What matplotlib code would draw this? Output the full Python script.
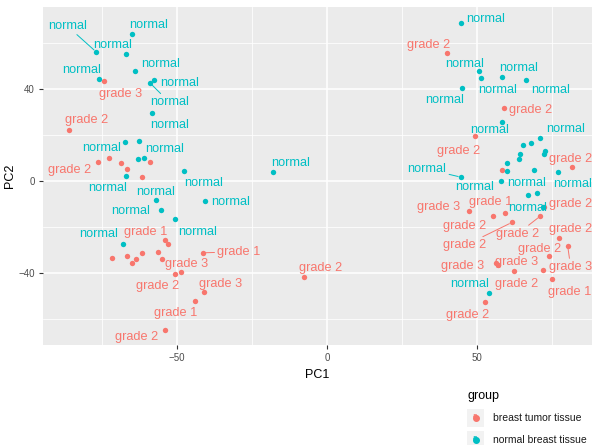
import matplotlib
matplotlib.use('Agg')
import matplotlib.pyplot as plt
from matplotlib.patches import Rectangle
from matplotlib.lines import Line2D

plt.rcParams['font.family'] = ['Liberation Sans', 'DejaVu Sans']

RED = '#F8766D'
CYAN = '#00BFC4'

# ---- data (PCA scores) ----
normal_pc1 = [-77.0, -65.1, -67.1, -64.0, -75.9, -58.9, -57.6, -58.3, -67.3, -62.8,
              -62.9, -61.2, -67.0, -47.6, -56.9, -55.4, -50.6, -40.6, -68.2, -18.0,
              44.6, 50.7, 51.3, 58.3, 66.2, 45.1, 58.2, 71.1, 67.9, 65.3,
              72.7, 72.4, 64.4, 64.1, 60.1, 59.8, 69.1, 77.0, 44.6, 57.9,
              67.0, 69.9, 72.1, 53.8]
normal_pc2 = [56.2, 63.9, 55.4, 47.7, 44.5, 42.5, 44.0, 29.7, 16.8, 17.4,
              9.4, 9.9, 2.2, 4.5, -8.3, -12.8, -16.7, -8.6, -27.4, 4.0,
              68.8, 48.0, 44.8, 45.2, 44.0, 40.6, 25.5, 18.8, 16.5, 15.8,
              13.2, 11.7, 11.6, 9.6, 8.0, 4.5, 4.8, 3.8, 1.7, -0.1,
              -6.0, -5.2, -11.1, -48.6]

tumor_pc1 = [-74.3, -85.9, -76.4, -72.7, -68.7, -66.8, -59.2, -61.6, -54.0, -53.0,
             -71.6, -66.8, -65.1, -63.6, -61.6, -56.3, -55.2, -50.6, -48.7, -41.4,
             -41.2, -44.0, -54.0, -7.6,
             39.9, 59.1, 49.4, 58.2, 81.7, 47.3, 55.3, 59.4, 61.6, 71.1,
             72.3, 77.2, 80.2, 73.8, 56.3, 57.0, 62.4, 72.1, 74.9, 52.7]
tumor_pc2 = [43.3, 22.0, 8.4, 9.9, 7.7, 5.2, 8.4, 1.7, -25.7, -27.4,
             -33.5, -32.6, -35.8, -34.1, -31.4, -30.7, -34.1, -40.4, -39.4, -31.2,
             -48.1, -52.3, -64.8, -41.9,
             55.5, 31.6, 19.7, 4.6, 6.1, -13.2, -15.2, -13.9, -18.0, -15.2,
             -11.4, -24.6, -28.3, -32.5, -35.6, -36.5, -39.3, -38.7, -42.8, -52.5]
# grade labels (None = label dropped by the repel step in the original)
tumor_grade = ['grade 3', 'grade 2', 'grade 2', None, None, None, None, None, 'grade 1', None,
               None, None, None, None, None, None, None, 'grade 2', 'grade 3', 'grade 1',
               'grade 3', 'grade 1', 'grade 2', 'grade 2',
               'grade 2', 'grade 2', 'grade 2', None, 'grade 2', 'grade 3', 'grade 2', 'grade 1',
               'grade 2', 'grade 2',
               'grade 2', 'grade 2', 'grade 3', 'grade 2', 'grade 3', 'grade 3', 'grade 2', None,
               'grade 1', 'grade 2']
normal_shown = [True] * 10 + [False, False] + [True] * 16 + [False] * 8 + \
               [True, True, True, True, False, False, True, True]

# ---- label placement (pixel offsets, repel-like layout) ----
normal_offsets = [(-29, 26), (17, 9), (-13, 9), (25, 7), (-18, 9), (19, -19), (25, -3),
                  (17, -12), (-24, -6), (26, -8), (0, 0), (0, 0), (-19, -12), (19, -12),
                  (-1, 8), (-30, -1), (22, -13), (25, -1), (-24, 10), (17, 9),
                  (25, 4), (-15, 7), (17, -12), (17, 9), (25, -10), (-18, -12), (-12, -8),
                  (25, 9), (0, 0), (0, 0), (0, 0), (0, 0), (0, 0), (0, 0), (0, 0), (0, 0),
                  (-8, -13), (14, -12), (-34, 8), (-26, -6), (0, 0), (0, 0), (-16, -1),
                  (-19, 9)]
tumor_offsets = [(16, -13), (17, 10), (-28, -8), (0, 0), (0, 0), (0, 0), (0, 0), (0, 0),
                 (-19, 8), (0, 0), (0, 0), (0, 0), (0, 0), (0, 0), (0, 0), (0, 0), (0, 0),
                 (-18, -12), (6, 8), (36, 1), (17, 8), (-19, -12), (-28, -7), (16, 9),
                 (-18, 8), (26, -2), (-17, -15), (0, 0), (-2, 8), (-30, 4), (-28, -10),
                 (-15, 11), (-47, -23), (-23, -18), (27, 3), (12, 9), (3, -21), (-9, 7),
                 (-33, -3), (18, 3), (2, -13), (0, 0), (18, -13), (-18, -13)]
normal_segments = {0, 5, 38}
tumor_segments = {19, 32, 33, 36}

fig = plt.figure(figsize=(5.95, 4.45), dpi=100, facecolor='white')
ax = fig.add_axes([43 / 595, 1 - 345 / 445, 549 / 595, 338 / 445])
ax.set_facecolor('#EBEBEB')
ax.set_xlim(-94.7, 88.3)
ax.set_ylim(-71.3, 75.7)

ax.set_xticks([-50, 0, 50])
ax.set_yticks([-40, 0, 40])
ax.set_xticks([-75, -25, 25, 75], minor=True)
ax.set_yticks([-60, -20, 20, 60], minor=True)
ax.grid(which='major', color='white', linewidth=1.1)
ax.grid(which='minor', color='white', linewidth=0.55)
ax.set_axisbelow(True)
for s in ax.spines.values():
    s.set_visible(False)
ax.tick_params(which='major', length=2.75, width=0.8, color='#333333',
               labelsize=7, labelcolor='#4D4D4D', pad=3)
ax.tick_params(which='minor', length=0)
ax.set_xlabel('PC1', fontsize=9, color='black', labelpad=4)
ax.set_ylabel('PC2', fontsize=9, color='black', labelpad=2)

ax.scatter(tumor_pc1, tumor_pc2, s=15, color=RED, linewidths=0, zorder=3)
ax.scatter(normal_pc1, normal_pc2, s=15, color=CYAN, linewidths=0, zorder=3)


def add_labels(xs, ys, texts, offsets, segs, color):
    for i, (x, y, t) in enumerate(zip(xs, ys, texts)):
        if not t:
            continue
        kw = {}
        if i in segs:
            kw['arrowprops'] = dict(arrowstyle='-', color=color, lw=0.7,
                                    shrinkA=0, shrinkB=2)
        ax.annotate(t, (x, y), xytext=offsets[i], textcoords='offset pixels',
                    ha='center', va='center', fontsize=9.2, color=color,
                    zorder=4, **kw)


add_labels(tumor_pc1, tumor_pc2, tumor_grade, tumor_offsets, tumor_segments, RED)
add_labels(normal_pc1, normal_pc2,
           ['normal' if v else None for v in normal_shown],
           normal_offsets, normal_segments, CYAN)

# ---- legend (ggplot style, below right) ----
W, H = 595, 445
fig.text(467 / W, 1 - 396 / H, 'group', fontsize=9, ha='left', va='center')
legend_labels = ['breast tumor tissue', 'normal breast tissue']
legend_colors = [RED, CYAN]
for k, (lab, col) in enumerate(zip(legend_labels, legend_colors)):
    yc = 418 + k * 22
    fig.patches.append(Rectangle((467 / W, 1 - (yc + 9) / H), 17 / W, 18 / H,
                                 transform=fig.transFigure, facecolor='#F2F2F2',
                                 edgecolor='none'))
    fig.lines.append(Line2D([475.5 / W], [1 - yc / H], transform=fig.transFigure,
                            marker='o', markersize=4, color=col, linestyle='none'))
    fig.text(475.5 / W, 1 - (yc - 1) / H, 'a', fontsize=6, color=col,
             ha='center', va='center', fontweight='bold')
    fig.text(493 / W, 1 - yc / H, lab, fontsize=7.5, color='#1A1A1A',
             ha='left', va='center')

fig.savefig('out.png', dpi=100)
